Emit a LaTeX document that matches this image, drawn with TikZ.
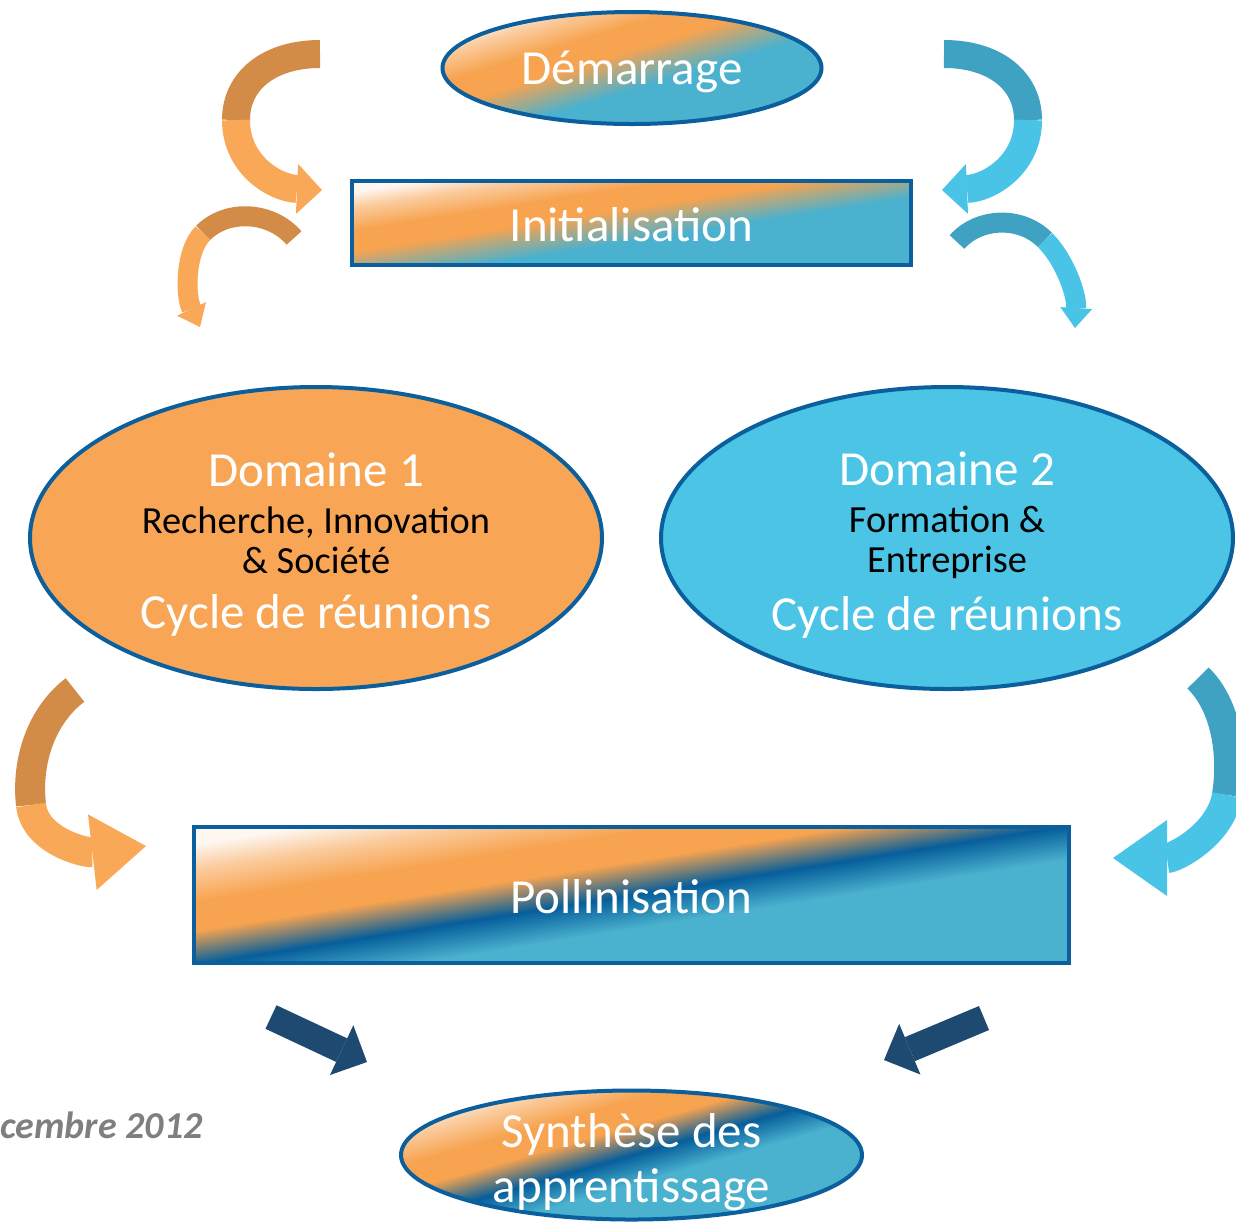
\documentclass[tikz,border=0pt]{standalone}
\usepackage{fontspec}
\setmainfont{Carlito}
\usetikzlibrary{shapes,arrows.meta,positioning}
\definecolor{cream}{HTML}{FEF6F0}
\definecolor{warmorange}{HTML}{F7A34F}
\definecolor{coolblue}{HTML}{4AB1CE}
\definecolor{deepblue}{HTML}{065E9B}
\definecolor{rimblue}{HTML}{0A5F9C}
\definecolor{domorange}{HTML}{F8A656}
\definecolor{domblue}{HTML}{4BC4E6}
\definecolor{orangeback}{HTML}{D38C48}
\definecolor{orangefront}{HTML}{F9A857}
\definecolor{blueback}{HTML}{40A2C3}
\definecolor{bluefront}{HTML}{4AC4E6}
\definecolor{navyarrow}{HTML}{1E4970}
\definecolor{dategray}{HTML}{7F7F7F}
\colorlet{paleorange}{cream!50!warmorange}
\pgfdeclareverticalshading{warmcool}{100bp}{color(0bp)=(coolblue); color(44bp)=(coolblue); color(55bp)=(warmorange); color(62bp)=(warmorange); color(70bp)=(paleorange); color(75bp)=(cream); color(100bp)=(cream)}
\pgfdeclareverticalshading{warmdeep}{100bp}{color(0bp)=(coolblue); color(43bp)=(coolblue); color(50bp)=(deepblue); color(57bp)=(warmorange); color(63bp)=(warmorange); color(70bp)=(paleorange); color(75bp)=(cream); color(100bp)=(cream)}
\tikzset{
     stage text/.style={font=\fontsize{24.5}{27.5}\selectfont, text=white, align=center},
     grad ellipse/.style={ellipse, draw=rimblue, line width=2pt, shade, shading=warmcool, inner sep=0pt},
     grad box/.style={rectangle, draw=rimblue, line width=2pt, shade, shading=warmcool, inner sep=0pt},
     domain ellipse/.style={ellipse, draw=rimblue, line width=2pt, inner sep=0pt, minimum width=286pt, minimum height=151pt},
     domain text/.style={font=\fontsize{24.5}{20}\selectfont, text=white, align=center},
     ribbon/.style={line cap=butt},
     big tip/.style={-{Triangle[length=12.5pt,width=25pt,line width=0pt]}},
     small tip/.style={-{Triangle[length=10pt,width=16pt,line width=0pt]}},
     wide tip/.style={-{Triangle[length=27pt,width=38pt,line width=0pt]}},
     navy tip/.style={-{Triangle[length=14pt,width=27.5pt,line width=0pt]}},
     date text/.style={font=\fontsize{19}{22}\selectfont\bfseries\itshape, text=dategray, inner sep=0pt},
    }
\newcommand{\subline}[1]{{\fontsize{19.2}{20}\selectfont\color{black}#1}}

\begin{document}
\begin{tikzpicture}[x=0.5pt, y=-0.5pt]
    \useasboundingbox (0,0) rectangle (1236,1223);

    \node [grad ellipse, shading angle=16.85, minimum width=189.5pt, minimum height=56pt] (demarrage) at (632,68) {};
    \node [stage text] (demarrage text) at ([yshift=-2pt]demarrage.center) {Démarrage};
    \node [grad box, shading angle=8.9, minimum width=279.5pt, minimum height=42pt] (init) at (631.5,223) {};
    \node [stage text] (init text) at ([yshift=-1pt]init.center) {Initialisation};

    \node [domain ellipse, fill=domorange] (dom1) at (316,538) {};
    \node [domain text] (dom1 text) at ([yshift=-3.5pt]dom1.center)
        {Domaine 1\\[3.5pt]\subline{Recherche, Innovation}\\\subline{\& Société}\\[7.5pt]Cycle de réunions};
    \node [domain ellipse, fill=domblue] (dom2) at (947,538) {};
    \node [domain text] (dom2 text) at ([yshift=-3.5pt]dom2.center)
        {Domaine 2\\[3.5pt]\subline{Formation \&}\\\subline{Entreprise}\\[7.5pt]Cycle de réunions};

    \node [grad box, shading=warmdeep, shading angle=9.05, minimum width=437.5pt, minimum height=68pt] (pollin) at (631.5,895) {};
    \node [stage text] (pollin text) at ([yshift=-1pt]pollin.center) {Pollinisation};
    \node [grad ellipse, shading=warmdeep, shading angle=15.96, minimum width=230.5pt, minimum height=64.5pt] (synth) at (631.5,1155) {};
    \node [stage text] (synth text) at ([yshift=-3.5pt]synth.center) {Synthèse des\\apprentissage};

    \node [date text, anchor=base east] (date) at (203,1138) {cembre 2012};

    % ribbons, top
    \coordinate (a tail) at (320,54);
    \coordinate (a turn) at (236,120);
    \coordinate (a tip) at (322,190);
    \draw [ribbon, line width=14pt, orangeback] (a tail) .. controls (270,54) and (236,80) .. (a turn);
    \draw [ribbon, line width=14pt, orangefront, big tip] (a turn) .. controls (236,165) and (275,188) .. (a tip);

    \coordinate (b tail) at (294,238);
    \coordinate (b turn) at (203,233);
    \coordinate (b tip) at (200,327);
    \draw [ribbon, line width=10pt, orangeback] (b tail) .. controls (272,212) and (228,208) .. (b turn);
    \draw [ribbon, line width=10pt, orangefront, small tip] (b turn) .. controls (185,251) and (185,295) .. (b tip);

    \coordinate (c tail) at (944,54);
    \coordinate (c turn) at (1028,120);
    \coordinate (c tip) at (942,190);
    \draw [ribbon, line width=14pt, blueback] (c tail) .. controls (994,54) and (1028,80) .. (c turn);
    \draw [ribbon, line width=14pt, bluefront, big tip] (c turn) .. controls (1028,165) and (989,188) .. (c tip);

    \coordinate (d tail) at (957,242);
    \coordinate (d turn) at (1045,240);
    \coordinate (d tip) at (1075,328);
    \draw [ribbon, line width=10pt, blueback] (d tail) .. controls (978,218) and (1020,215) .. (d turn);
    \draw [ribbon, line width=10pt, bluefront, small tip] (d turn) .. controls (1065,260) and (1077,295) .. (d tip);

    % ribbons, middle
    \coordinate (e tail) at (75,690);
    \coordinate (e turn) at (31,805);
    \coordinate (e tip) at (146,846);
    \draw [ribbon, line width=15pt, orangeback] (e tail) .. controls (42,715) and (26,760) .. (e turn);
    \draw [ribbon, line width=15pt, orangefront, wide tip] (e turn) .. controls (35,841) and (85,853) .. (e tip);

    \coordinate (f tail) at (1198,678);
    \coordinate (f turn) at (1227,795);
    \coordinate (f tip) at (1113,858);
    \draw [ribbon, line width=15pt, blueback] (f tail) .. controls (1224,703) and (1234,750) .. (f turn);
    \draw [ribbon, line width=15pt, bluefront, wide tip] (f turn) .. controls (1221,834) and (1175,858) .. (f tip);

    % arrows to the synthesis
    \coordinate (g tail) at (271,1017);
    \coordinate (g tip) at (367,1062);
    \coordinate (h tail) at (984,1018);
    \coordinate (h tip) at (884,1060);
    \draw [ribbon, line width=13pt, navyarrow, navy tip] (g tail) -- (g tip);
    \draw [ribbon, line width=13pt, navyarrow, navy tip] (h tail) -- (h tip);
\end{tikzpicture}
\end{document}
